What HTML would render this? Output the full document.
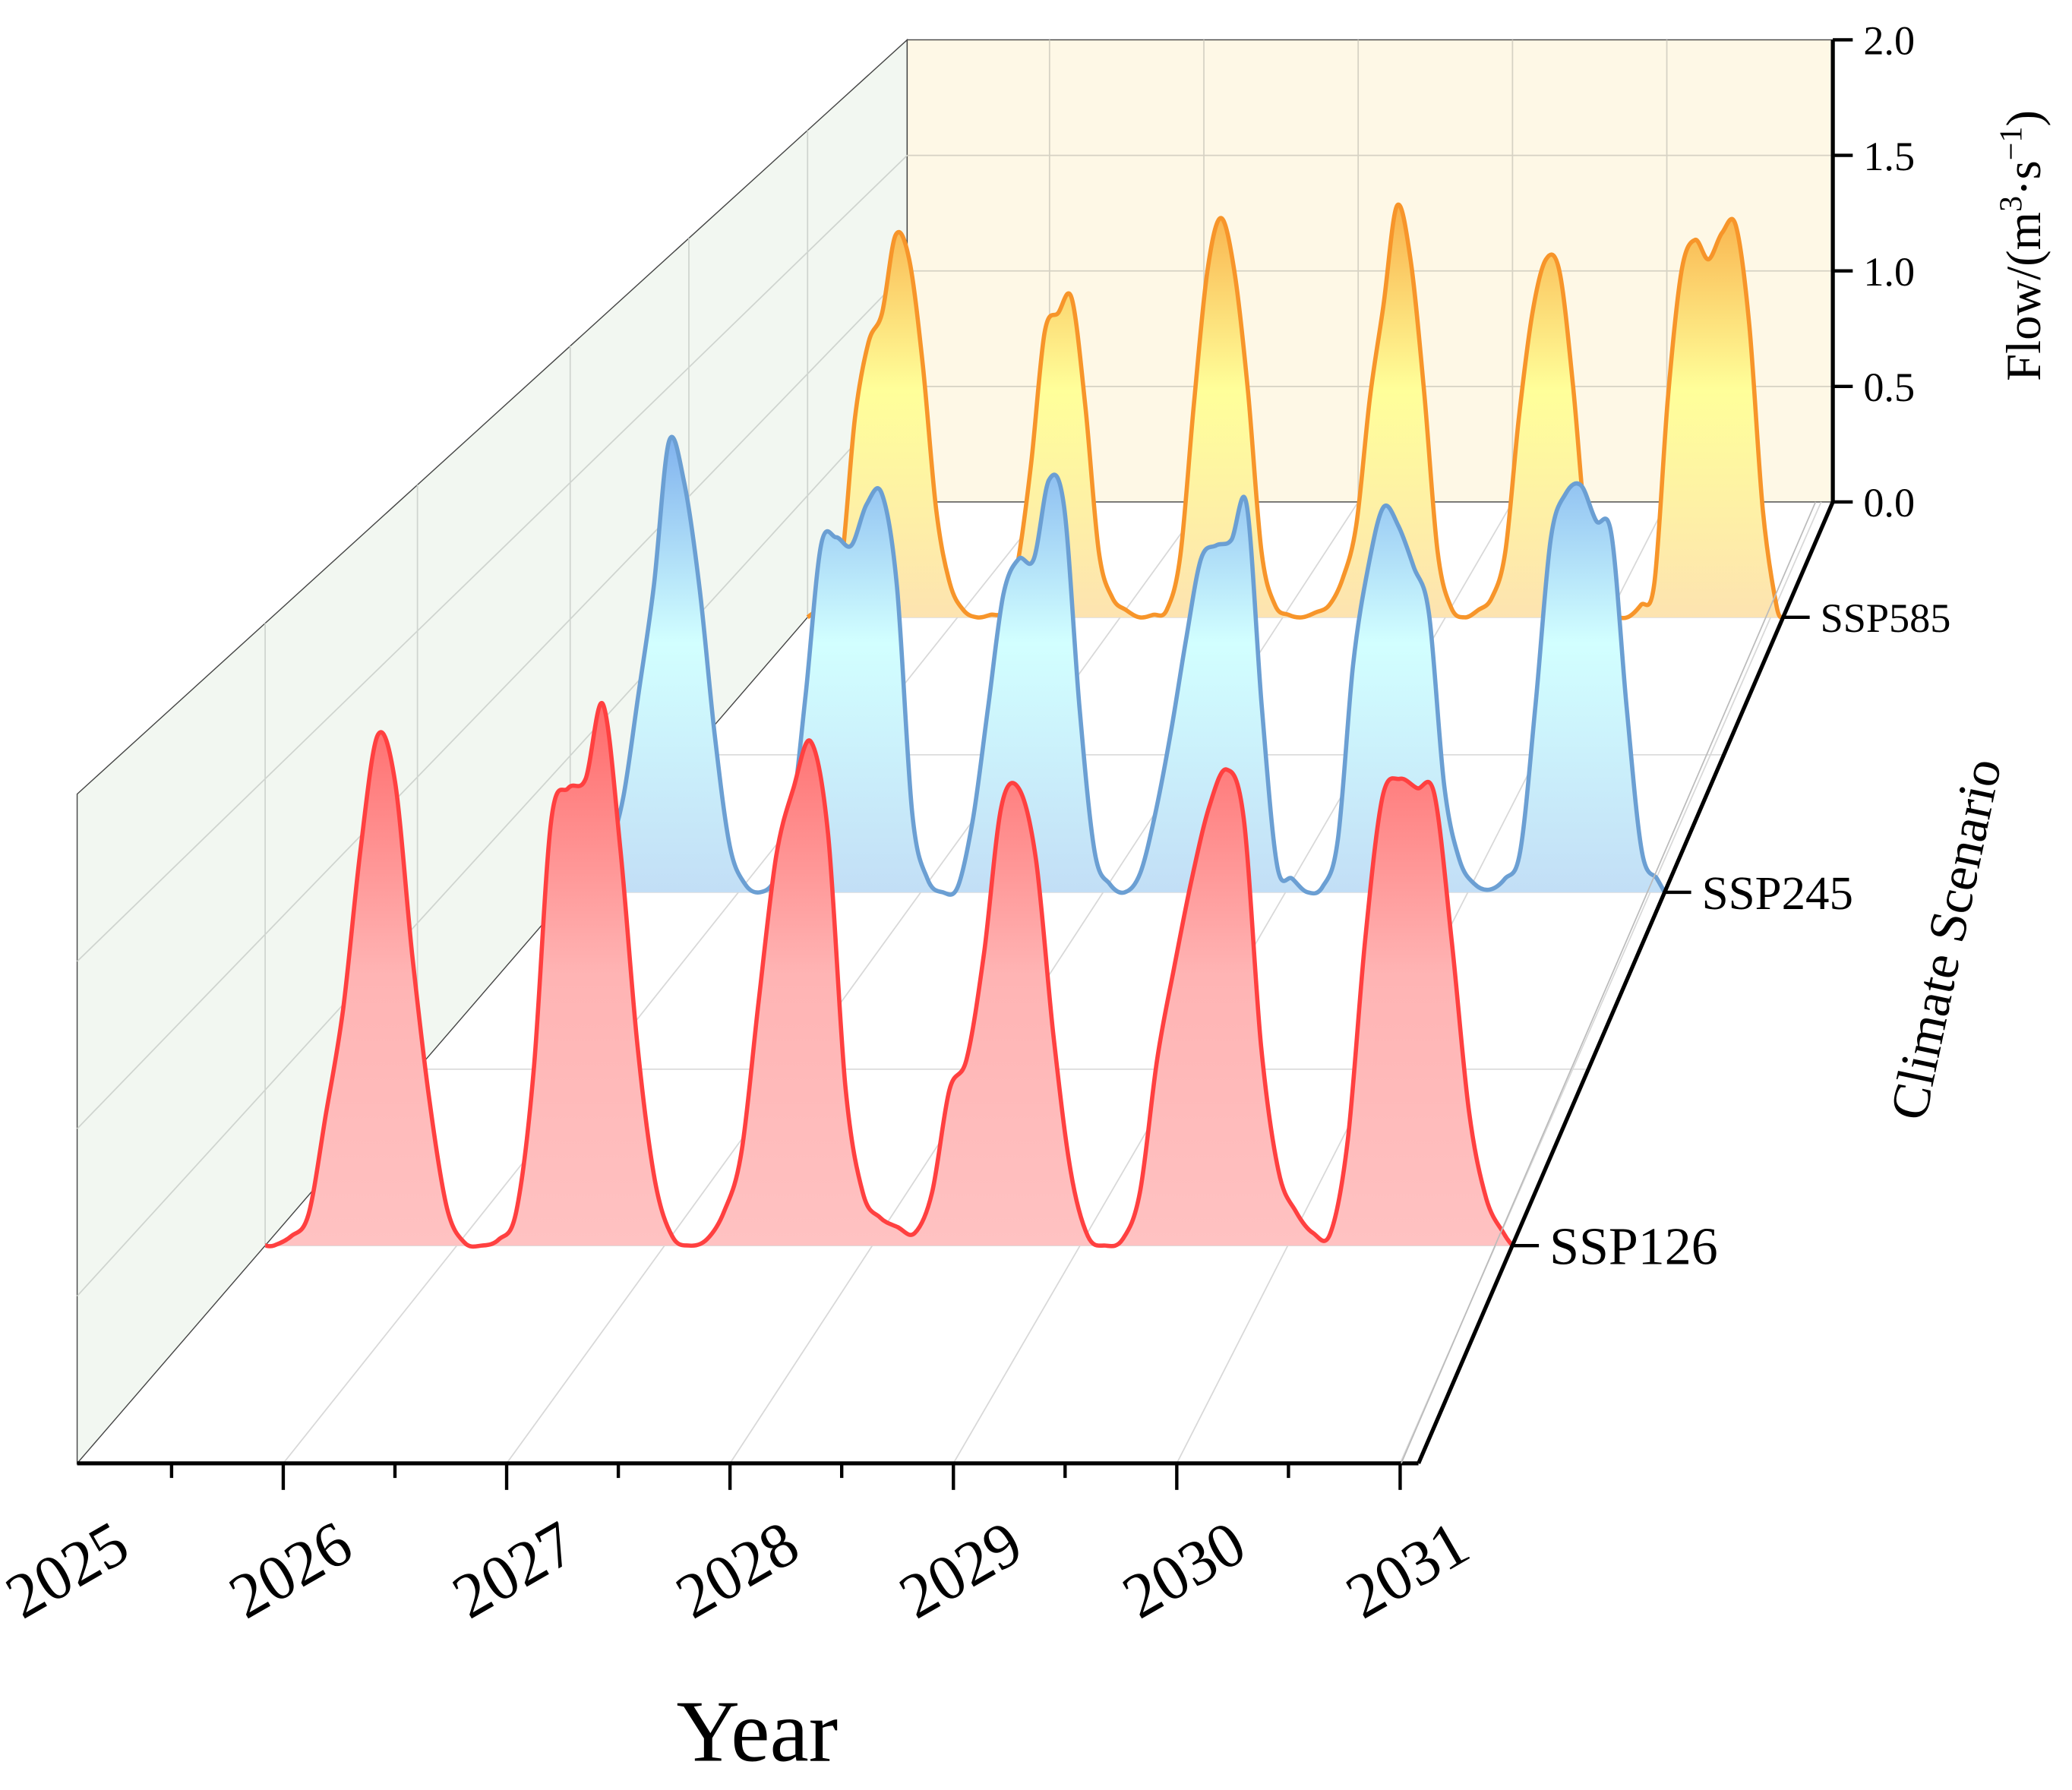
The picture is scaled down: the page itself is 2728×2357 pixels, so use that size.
<!DOCTYPE html>
<html><head><meta charset="utf-8">
<style>
html,body{margin:0;padding:0;background:#fff;}
svg{display:block;}
text{font-family:"Liberation Serif",serif;fill:#000;}
</style></head>
<body>
<svg id="chart" width="2728" height="2357" viewBox="0 0 1560 1348" xmlns="http://www.w3.org/2000/svg">
<defs>
<linearGradient id="gOrange" x1="0" y1="0" x2="0" y2="1">
<stop offset="0" stop-color="#f9b04a"/><stop offset="0.45" stop-color="#ffff9a"/><stop offset="1" stop-color="#fde3b0"/></linearGradient>
<linearGradient id="gBlue" x1="0" y1="0" x2="0" y2="1">
<stop offset="0" stop-color="#80b2ee"/><stop offset="0.45" stop-color="#d2ffff"/><stop offset="1" stop-color="#c2def6"/></linearGradient>
<linearGradient id="gRed" x1="0" y1="0" x2="0" y2="1">
<stop offset="0" stop-color="#ff6a6a"/><stop offset="0.5" stop-color="#ffb4b4"/><stop offset="1" stop-color="#ffc2c2"/></linearGradient>
</defs>
<g id="walls"></g>
<g id="series"></g>
<g id="axes"></g>
</svg>
<script>
// ---- data ----
const years = [2025, 2026, 2027, 2028, 2029, 2030, 2031];
const scenarios = ["SSP126", "SSP245", "SSP585"];
const zTicks = [0.0, 0.5, 1.0, 1.5, 2.0];
const ssp126 = [0,.03,.1,.42,.76,1.27,1.64,1.49,.93,.46,.12,.01,
 0,.02,.11,.56,1.36,1.47,1.5,1.74,1.28,.64,.21,.03,
 0,.02,.11,.3,.79,1.25,1.47,1.62,1.32,.51,.17,.09,
 .06,.04,.17,.5,.6,.94,1.41,1.47,1.24,.68,.24,.03,
 0,.02,.17,.6,.9,1.18,1.41,1.53,1.37,.64,.24,.11,
 .04,.04,.34,.98,1.44,1.5,1.47,1.45,.98,.43,.15,.04];
const ssp245 = [0,.05,.15,.35,.73,1.12,1.65,1.5,1.12,.58,.17,.03,
 0,.05,.24,.73,1.27,1.3,1.27,1.42,1.46,1.12,.29,.05,
 0,.02,.27,.68,1.09,1.22,1.22,1.51,1.41,.68,.15,.03,
 0,.07,.29,.58,.92,1.22,1.27,1.29,1.42,.68,.1,.05,
 0,.02,.19,.83,1.19,1.41,1.34,1.19,1.02,.39,.12,.03,
 .01,.05,.15,.68,1.29,1.46,1.49,1.36,1.31,.68,.15,.05];
const ssp585 = [.02,.05,.22,.82,1.13,1.25,1.57,1.47,1.04,.44,.14,.03,
 0,.01,.03,.22,.63,1.17,1.25,1.31,.87,.27,.08,.03,
 0,.01,.03,.25,.87,1.42,1.64,1.42,.93,.27,.05,.01,
 0,.02,.05,.16,.38,.9,1.28,1.69,1.47,.93,.27,.04,
 0,.03,.08,.27,.82,1.25,1.47,1.42,.95,.33,.07,.01,
 0,.05,.14,.9,1.42,1.55,1.47,1.58,1.61,1.2,.44,.05];

// ---- projection ----
const NS="http://www.w3.org/2000/svg";
const depthOf = [0.2265, 0.594, 0.88];
function scaleZ(d){return 252-78*d;}
function proj(u,d,z){
  const fx=58+1010*u, bx=683+697*u;
  return [fx+d*(bx-fx), 1102-724*d - z*scaleZ(d)];
}
function frontX(yr){return 45+168.2*(yr-2025);}
function backX(yr){return 674+116.2*(yr-2025);}
function mk(tag,attrs,parent){const e=document.createElementNS(NS,tag);for(const k in attrs)e.setAttribute(k,attrs[k]);parent.appendChild(e);return e;}
const walls=document.getElementById('walls'), ser=document.getElementById('series'), axes=document.getElementById('axes');

let e;
e=mk('polygon',{points:"58,598 683,30 683,378 58,1102",fill:"#f2f7f1",stroke:"#444","stroke-width":0.8},walls);


e=mk('rect',{x:683,y:30,width:697,height:348,fill:"#fef8e6",stroke:"#444","stroke-width":0.8},walls);


zTicks.slice(1,4).forEach(z=>{
  const y1=1102-z*252, y2=378-z*174;
  e=mk('line',{x1:58,y1:y1,x2:683,y2:y2,stroke:"#cfd4cf","stroke-width":1},walls);
  
  
  e=mk('line',{x1:683,y1:y2,x2:1380,y2:y2,stroke:"#d6d2c4","stroke-width":1},walls);
  
  
});
[0.2265,0.41,0.594,0.737,0.88].forEach(d=>{
  const x=58+625*d, yb=1102-724*d, yt=598-568*d;
  e=mk('line',{x1:x,y1:yb,x2:x,y2:yt,stroke:"#cfd4cf","stroke-width":1},walls);
  
  
  e=mk('line',{x1:x,y1:yb,x2:x+1010-313*d,y2:yb,stroke:"#dcdcdc","stroke-width":1},walls);
  
  
});
years.slice(1).forEach(yr=>{
  e=mk('line',{x1:frontX(yr),y1:1102,x2:backX(yr),y2:378,stroke:"#d8d8d8","stroke-width":1},walls);
  
  
  if(yr<2031){
  e=mk('line',{x1:backX(yr),y1:378,x2:backX(yr),y2:30,stroke:"#d6d2c4","stroke-width":1},walls);
  
  }
});

const seriesData=[ssp126,ssp245,ssp585];
const styles=[["#ff4040","url(#gRed)"],["#6b9fd3","url(#gBlue)"],["#f7952a","url(#gOrange)"]];
function smoothPath(pts){
  let s="M"+pts[0][0].toFixed(1)+","+pts[0][1].toFixed(1);
  for(let i=0;i<pts.length-1;i++){
    const p0=pts[Math.max(0,i-1)],p1=pts[i],p2=pts[i+1],p3=pts[Math.min(pts.length-1,i+2)];
    const c1=[p1[0]+(p2[0]-p0[0])/6,p1[1]+(p2[1]-p0[1])/6];
    const c2=[p2[0]-(p3[0]-p1[0])/6,p2[1]-(p3[1]-p1[1])/6];
    s+=" C"+c1[0].toFixed(1)+","+c1[1].toFixed(1)+" "+c2[0].toFixed(1)+","+c2[1].toFixed(1)+" "+p2[0].toFixed(1)+","+p2[1].toFixed(1);
  }
  return s;
}
[2,1,0].forEach(k=>{
  const d=depthOf[k], vals=seriesData[k], n=vals.length;
  const pts=[proj(0,d,0)];
  vals.forEach((v,i)=>pts.push(proj((i+0.5)/n,d,v)));
  pts.push(proj(1,d,0));
  const line=smoothPath(pts);
  const b0=proj(0,d,0), b1=proj(1,d,0);
  e=mk('path',{d:line+" L"+b1[0]+","+b1[1]+" L"+b0[0]+","+b0[1]+" Z",fill:styles[k][1],stroke:"none"},ser);
  
  
  e=mk('path',{d:line,fill:"none",stroke:styles[k][0],"stroke-width":3.2,"stroke-linejoin":"round"},ser);
  
  
});

e=mk('line',{x1:58,y1:1102,x2:1068,y2:1102,stroke:"#000","stroke-width":3},axes);


e=mk('line',{x1:1068,y1:1102,x2:1380,y2:378,stroke:"#000","stroke-width":3},axes);


e=mk('line',{x1:1055,y1:1102,x2:1367,y2:378,stroke:"#bbb","stroke-width":1},axes);


e=mk('line',{x1:1380,y1:378,x2:1380,y2:30,stroke:"#000","stroke-width":3},axes);


years.forEach((yr,i)=>{
  const x=frontX(yr);
  if(x>=58){
  e=mk('line',{x1:x,y1:1102,x2:x,y2:1122,stroke:"#000","stroke-width":2.5},axes);
  
  }
  if(i<years.length-1){
  e=mk('line',{x1:x+84.1,y1:1102,x2:x+84.1,y2:1113,stroke:"#000","stroke-width":2.5},axes);
  
  }
  const lx=x+55, ly=1172;
  e=mk('text',{x:lx,y:ly,"font-size":48,"text-anchor":"end",transform:"rotate(-30 "+lx+" "+ly+")"},axes);
  e.textContent=yr;
  
  
});
e=mk('text',{x:570,y:1326,"font-size":66,"text-anchor":"middle"},axes);
e.textContent="Year";


zTicks.forEach(z=>{
  const y=378-z*174;
  e=mk('line',{x1:1380,y1:y,x2:1395,y2:y,stroke:"#000","stroke-width":2.5},axes);
  
  
  if(z<2){
  e=mk('line',{x1:1380,y1:y-87,x2:1389,y2:y-87,stroke:"#000","stroke-width":2},axes);
  
  }
  e=mk('text',{x:1403,y:y+11,"font-size":31},axes);
  e.textContent=z.toFixed(1);
  
  
});
e=mk('text',{x:0,y:0,"font-size":37,"text-anchor":"middle",transform:"translate(1536 185) rotate(-90)"},axes);
e.innerHTML='Flow/(m<tspan dy="-14" font-size="24">3</tspan><tspan dy="14">·s</tspan><tspan dy="-14" font-size="24">−1</tspan><tspan dy="14">)</tspan>';


const labelSizes=[40,36,31];
scenarios.forEach((s,k)=>{
  const p=proj(1,depthOf[k],0);
  e=mk('line',{x1:p[0],y1:p[1],x2:p[0]+20,y2:p[1],stroke:"#000","stroke-width":2.5},axes);
  
  
  e=mk('text',{x:p[0]+28,y:p[1]+labelSizes[k]*0.35,"font-size":labelSizes[k]},axes);
  e.textContent=s;
  
  
});
e=mk('text',{x:0,y:0,"font-size":40,"text-anchor":"middle",transform:"translate(1478 710) rotate(-78)"},axes);
e.textContent="Climate Scenario";


</script>
</body></html>
